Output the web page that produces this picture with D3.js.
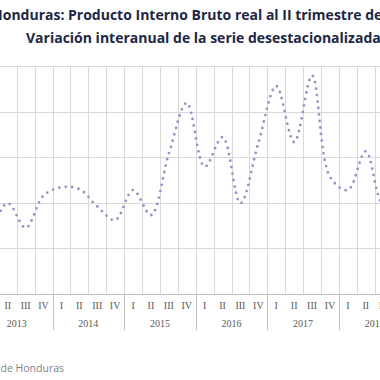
<!DOCTYPE html>
<html>
<head>
<meta charset="utf-8">
<script src="https://cdn.jsdelivr.net/npm/d3@7"></script>
<style>
  html, body { margin: 0; padding: 0; background: #ffffff; }
  svg { display: block; }
</style>
</head>
<body>
<script>
// ---- data ----
const titleLine1 = "Honduras: Producto Interno Bruto real al II trimestre de 2018";
const titleLine2 = "Variación interanual de la serie desestacionalizada";
const sourceText = "de Honduras";

const years = [2012, 2013, 2014, 2015, 2016, 2017, 2018];
const quarterNames = ["I", "II", "III", "IV"];
const periods = [
  "2012-IV",
  "2013-I", "2013-II", "2013-III", "2013-IV",
  "2014-I", "2014-II", "2014-III", "2014-IV",
  "2015-I", "2015-II", "2015-III", "2015-IV",
  "2016-I", "2016-II", "2016-III", "2016-IV",
  "2017-I", "2017-II", "2017-III", "2017-IV",
  "2018-I", "2018-II", "2018-III", "2018-IV"
];
const growth = [
  2.73,
  2.51, 2.99, 2.45, 3.16,
  3.34, 3.30, 2.92, 2.62,
  3.28, 2.73, 4.08, 5.19,
  3.79, 4.44, 2.99, 4.31,
  5.56, 4.33, 5.79, 3.57,
  3.28, 4.13, 2.95, 3.06
];
const yTicks = [1, 2, 3, 4, 5, 6];

// ---- layout ----
const W = 380, H = 380;
const plotTop = 66, plotBottom = 294;
const bandW = 17.9;
const xStart = -37;

const svg = d3.select("body").append("svg")
  .attr("width", W).attr("height", H);

const x = d3.scaleBand()
  .domain(periods)
  .range([xStart, xStart + periods.length * bandW])
  .padding(0);

const y = d3.scaleLinear()
  .domain([d3.min(yTicks), d3.max(yTicks)])
  .range([plotBottom, plotTop]);

const crisp = v => Math.round(v) + 0.5;
const xEnd = x(periods[periods.length - 1]) + bandW;

// horizontal gridlines
svg.append("g")
  .selectAll("line")
  .data(yTicks.slice(1))
  .join("line")
  .attr("x1", xStart).attr("x2", xEnd)
  .attr("y1", d => crisp(y(d))).attr("y2", d => crisp(y(d)))
  .attr("stroke", "#d9d9d9").attr("stroke-width", 1);

// vertical gridlines at every quarter boundary
const boundaries = periods.map(p => x(p)).concat([xEnd]);
svg.append("g")
  .selectAll("line")
  .data(boundaries)
  .join("line")
  .attr("x1", d => crisp(d)).attr("x2", d => crisp(d))
  .attr("y1", plotTop).attr("y2", plotBottom)
  .attr("stroke", "#d9d9d9").attr("stroke-width", 1);

// x axis line
svg.append("line")
  .attr("x1", xStart).attr("x2", xEnd)
  .attr("y1", crisp(y(yTicks[0]))).attr("y2", crisp(y(yTicks[0])))
  .attr("stroke", "#bfbfbf").attr("stroke-width", 1);

// year separators below axis
const yearStarts = years.map(yr => x(periods.find(p => p.startsWith(yr + "-")))).concat([xEnd]);
svg.append("g")
  .selectAll("line")
  .data(yearStarts)
  .join("line")
  .attr("x1", d => crisp(d)).attr("x2", d => crisp(d))
  .attr("y1", plotBottom).attr("y2", 330)
  .attr("stroke", "#bfbfbf").attr("stroke-width", 1);

// quarter labels (only those that reach into the view)
svg.append("g")
  .selectAll("text")
  .data(periods.filter(p => x(p) + bandW / 2 > 0 && x(p) + bandW / 2 - 6 < W))
  .join("text")
  .attr("x", d => x(d) + bandW / 2)
  .attr("y", 309)
  .attr("text-anchor", "middle")
  .attr("font-family", "'Liberation Serif', 'Times New Roman', serif")
  .attr("font-size", 10)
  .attr("fill", "#595959")
  .text(d => d.split("-")[1]);

// year labels
svg.append("g")
  .selectAll("text")
  .data(years.filter(yr => periods.filter(p => p.startsWith(yr + "-")).length === 4))
  .join("text")
  .attr("x", yr => {
    const qs = periods.filter(p => p.startsWith(yr + "-"));
    return (x(qs[0]) + x(qs[qs.length - 1]) + bandW) / 2;
  })
  .attr("y", 327)
  .attr("text-anchor", "middle")
  .attr("font-family", "'Liberation Serif', 'Times New Roman', serif")
  .attr("font-size", 10)
  .attr("fill", "#595959")
  .text(yr => yr);

// dotted smoothed line
const line = d3.line()
  .x((d, i) => x(periods[i]) + bandW / 2)
  .y(d => y(d))
  .curve(d3.curveCatmullRom.alpha(0.5));

svg.append("path")
  .datum(growth)
  .attr("d", line)
  .attr("fill", "none")
  .attr("stroke", "#a08dc8")
  .attr("stroke-width", 2.8)
  .attr("stroke-linecap", "round")
  .attr("stroke-dasharray", "0 6.5");

// title
svg.append("text")
  .attr("x", -8).attr("y", 20)
  .attr("font-family", "'Open Sans', Lato, sans-serif")
  .attr("font-weight", "bold")
  .attr("font-size", 14)
  .attr("fill", "#1c2745")
  .text(titleLine1);

svg.append("text")
  .attr("x", 26).attr("y", 43)
  .attr("font-family", "'Open Sans', Lato, sans-serif")
  .attr("font-weight", "bold")
  .attr("font-size", 14)
  .attr("fill", "#1c2745")
  .text(titleLine2);

// source
svg.append("text")
  .attr("x", 0.5).attr("y", 372)
  .attr("font-family", "'Open Sans', sans-serif")
  .attr("font-size", 10.5)
  .attr("fill", "#7f7f7f")
  .text(sourceText);
</script>
</body>
</html>
